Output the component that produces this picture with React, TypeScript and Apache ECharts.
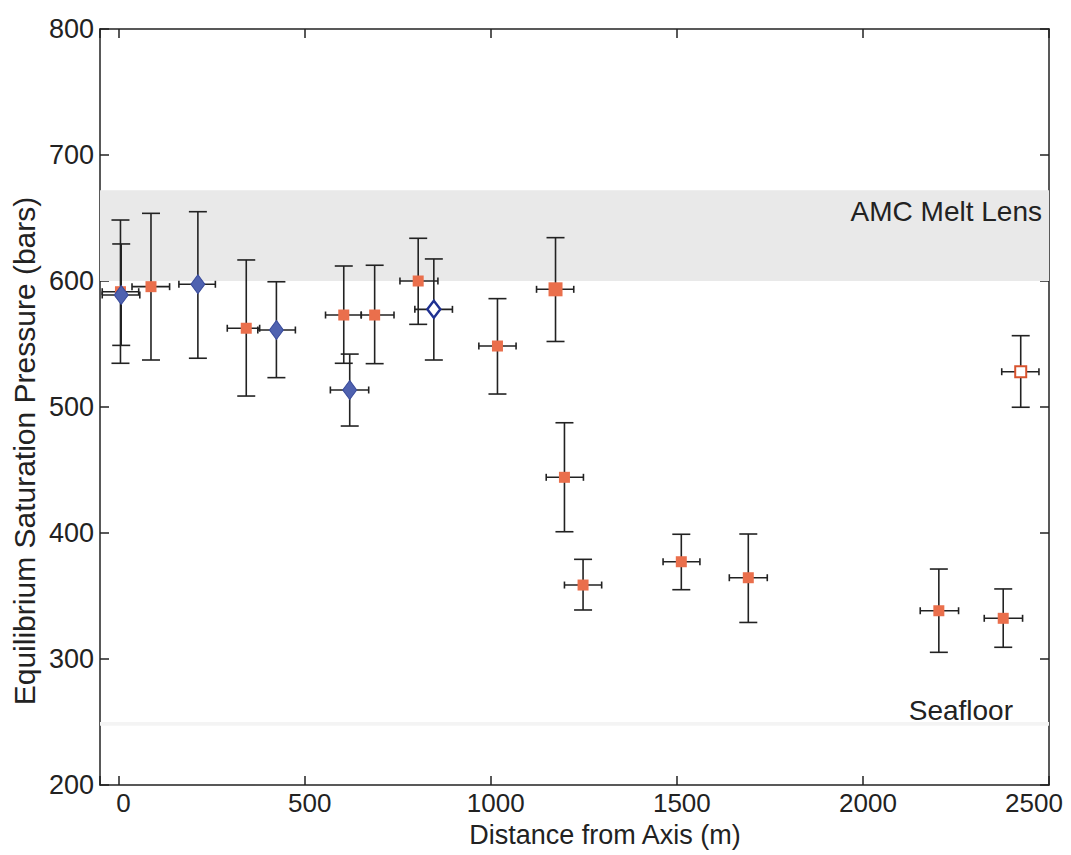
import React, { useEffect, useRef } from "react";
import * as echarts from "echarts";

// Orange filled squares: distance (m), pressure (bars), error bounds
const orangeX = [5, 87, 343, 605, 688, 805, 1018, 1174, 1198, 1248, 1512, 1692, 2204, 2377];
const orangeY = [591.5, 595.5, 562.5, 573, 573, 600, 548.4, 593.4, 444.2, 358.7, 377.2, 364.5, 338.3, 332.3];
const orangeYLo = [534.7, 537.3, 508.7, 534.7, 534.4, 565.6, 510.3, 552, 401, 338.9, 355, 329, 305.3, 309.3];
const orangeYHi = [648.4, 653.7, 616.7, 611.9, 612.5, 633.9, 586, 634.4, 487.5, 379.1, 399, 399.2, 371.4, 355.6];
const orangeXLo = [-44, 36, 292, 556, 652, 756, 968, 1123, 1149, 1198, 1463, 1641, 2154, 2326];
const orangeXHi = [54, 137, 379, 652, 740, 858, 1068, 1223, 1249, 1298, 1562, 1743, 2257, 2429];

// Blue filled diamonds
const blueX = [7, 213, 424, 621];
const blueY = [588.9, 597.4, 561.1, 513.5];
const blueYLo = [548.9, 538.7, 523.3, 484.9];
const blueYHi = [629.4, 655, 599.4, 542];
const blueXLo = [-44, 162, 374, 569];
const blueXHi = [57, 260, 475, 672];

// Blue open diamond
const blueOpenX = [847];
const blueOpenY = [577.5];
const blueOpenYLo = [537.3];
const blueOpenYHi = [617.5];
const blueOpenXLo = [796];
const blueOpenXHi = [897];

// Orange open square
const orangeOpenX = [2424];
const orangeOpenY = [528];
const orangeOpenYLo = [499.8];
const orangeOpenYHi = [556.6];
const orangeOpenXLo = [2373];
const orangeOpenXHi = [2473];

// Shaded bands (bars)
const meltLensBand = [600, 672];
const seafloorBand = [247, 250];

const xMin = -50;
const xMax = 2500;
const xTickStep = 500;
const FONT = "'Liberation Sans', Arial, Helvetica, sans-serif";
const INK = "#222";

function rows(x: number[], y: number[], xl: number[], xh: number[], yl: number[], yh: number[]) {
  return x.map((v, i) => [v, y[i], xl[i], xh[i], yl[i], yh[i]]);
}

function errorBarSeries(data: number[][], z: number) {
  return {
    type: "custom",
    z,
    silent: true,
    data,
    renderItem: (_params: any, api: any) => {
      const x = api.value(0);
      const y = api.value(1);
      const c = api.coord([x, y]);
      const top = api.coord([x, api.value(5)]);
      const bot = api.coord([x, api.value(4)]);
      const left = api.coord([api.value(2), y]);
      const right = api.coord([api.value(3), y]);
      const cw = 9;
      const ch = 3.5;
      const style = { stroke: INK, lineWidth: 1.6 };
      return {
        type: "group",
        children: [
          { type: "line", shape: { x1: c[0], y1: top[1], x2: c[0], y2: bot[1] }, style },
          { type: "line", shape: { x1: c[0] - cw, y1: top[1], x2: c[0] + cw, y2: top[1] }, style },
          { type: "line", shape: { x1: c[0] - cw, y1: bot[1], x2: c[0] + cw, y2: bot[1] }, style },
          { type: "line", shape: { x1: left[0], y1: c[1], x2: right[0], y2: c[1] }, style },
          { type: "line", shape: { x1: left[0], y1: c[1] - ch, x2: left[0], y2: c[1] + ch }, style },
          { type: "line", shape: { x1: right[0], y1: c[1] - ch, x2: right[0], y2: c[1] + ch }, style },
        ],
      };
    },
  };
}

export default function App() {
  const ref = useRef<HTMLDivElement>(null);
  useEffect(() => {
    if (!ref.current) return;
    const chart = echarts.init(ref.current, null, { renderer: "svg" });
    const orangeRows = rows(orangeX, orangeY, orangeXLo, orangeXHi, orangeYLo, orangeYHi);
    const blueRows = rows(blueX, blueY, blueXLo, blueXHi, blueYLo, blueYHi);
    const blueOpenRows = rows(blueOpenX, blueOpenY, blueOpenXLo, blueOpenXHi, blueOpenYLo, blueOpenYHi);
    const orangeOpenRows = rows(orangeOpenX, orangeOpenY, orangeOpenXLo, orangeOpenXHi, orangeOpenYLo, orangeOpenYHi);

    const axisLine = { show: true, onZero: false, lineStyle: { color: INK, width: 1.5 } };
    const tick = { show: true, inside: true, length: 9, lineStyle: { color: INK, width: 1.5 } };
    const labelFont = { fontSize: 26, fontFamily: FONT, color: INK };

    chart.setOption({
      animation: false,
      backgroundColor: "#fff",
      grid: {
        left: 100,
        right: 22,
        top: 29,
        bottom: 70,
        containLabel: false,
        outerBoundsMode: "none",
      },
      xAxis: [
        {
          type: "value",
          position: "bottom",
          min: xMin,
          max: xMax,
          splitNumber: 5,
          axisLine,
          axisTick: tick,
          splitLine: { show: false },
          axisLabel: {
            ...labelFont,
            margin: 5,
            formatter: (v: number) =>
              v === xMax ? `{end|${v}}` : v % xTickStep === 0 ? `{std|${v}}` : "",
            rich: {
              std: { ...labelFont, padding: [0, 0, 0, 10] },
              end: { ...labelFont, padding: [0, 30, 0, 0] },
            },
          },
        },
        {
          type: "value",
          position: "top",
          min: xMin,
          max: xMax,
          splitNumber: 5,
          axisLine,
          axisTick: tick,
          splitLine: { show: false },
          axisLabel: { show: false },
        },
      ],
      yAxis: [
        {
          type: "value",
          position: "left",
          min: 200,
          max: 800,
          interval: 100,
          axisLine,
          axisTick: tick,
          splitLine: { show: false },
          axisLabel: { fontSize: 27, fontFamily: FONT, color: INK, margin: 6 },
        },
        {
          type: "value",
          position: "right",
          min: 200,
          max: 800,
          interval: 100,
          axisLine,
          axisTick: tick,
          splitLine: { show: false },
          axisLabel: { show: false },
        },
      ],
      graphic: [
        {
          type: "text",
          z: 20,
          x: 24,
          y: 451,
          rotation: Math.PI / 2,
          style: {
            text: "Equilibrium Saturation Pressure (bars)",
            font: `30px ${FONT}`,
            fill: INK,
            align: "center",
            verticalAlign: "middle",
          },
        },
        {
          type: "text",
          z: 20,
          x: 605,
          y: 835,
          style: {
            text: "Distance from Axis (m)",
            font: `27px ${FONT}`,
            fill: INK,
            align: "center",
            verticalAlign: "middle",
          },
        },
        {
          type: "text",
          z: 20,
          x: 1042,
          y: 211,
          style: {
            text: "AMC Melt Lens",
            font: `28px ${FONT}`,
            fill: INK,
            align: "right",
            verticalAlign: "middle",
          },
        },
        {
          type: "text",
          z: 20,
          x: 1013,
          y: 710,
          style: {
            text: "Seafloor",
            font: `28px ${FONT}`,
            fill: INK,
            align: "right",
            verticalAlign: "middle",
          },
        },
      ],
      series: [
        {
          type: "scatter",
          data: [],
          silent: true,
          z: 1,
          markArea: {
            silent: true,
            itemStyle: { color: "#e9e9e9" },
            data: [[{ yAxis: meltLensBand[0] }, { yAxis: meltLensBand[1] }]],
          },
        },
        {
          type: "scatter",
          data: [],
          silent: true,
          z: 1,
          markArea: {
            silent: true,
            itemStyle: { color: "#f4f4f4" },
            data: [[{ yAxis: seafloorBand[0] }, { yAxis: seafloorBand[1] }]],
          },
        },
        errorBarSeries(orangeRows, 3),
        errorBarSeries(blueRows, 3),
        errorBarSeries(blueOpenRows, 3),
        errorBarSeries(orangeOpenRows, 3),
        {
          type: "scatter",
          z: 5,
          data: orangeRows.map((r) => [r[0], r[1]]),
          symbol: "rect",
          symbolSize: (_v: any, p: any) => (p.dataIndex === 7 ? 14 : 11),
          itemStyle: { color: "#ea6f4c", opacity: 1 },
        },
        {
          type: "scatter",
          z: 6,
          data: blueRows.map((r) => [r[0], r[1]]),
          symbol: "diamond",
          symbolSize: [14, 19],
          itemStyle: { color: "#4f62b0", borderColor: "#3a4c9c", borderWidth: 1, opacity: 1 },
        },
        {
          type: "scatter",
          z: 6,
          data: blueOpenRows.map((r) => [r[0], r[1]]),
          symbol: "diamond",
          symbolSize: [13, 17],
          itemStyle: { color: "#fff", borderColor: "#1f3192", borderWidth: 2.5, opacity: 1 },
        },
        {
          type: "scatter",
          z: 6,
          data: orangeOpenRows.map((r) => [r[0], r[1]]),
          symbol: "rect",
          symbolSize: 11,
          itemStyle: { color: "#fff", borderColor: "#d8532e", borderWidth: 2, opacity: 1 },
        },
      ],
    });
    return () => chart.dispose();
  }, []);
  return (
    <div
      ref={ref}
      style={{ position: "fixed", left: 0, top: 0, width: 1071, height: 855, background: "#fff" }}
    />
  );
}
